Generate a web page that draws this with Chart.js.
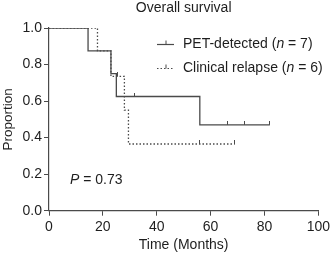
<!DOCTYPE html>
<html>
<head>
<meta charset="utf-8">
<script src="https://cdn.jsdelivr.net/npm/chart.js@4"></script>
<style>
  html, body { margin: 0; padding: 0; background: #fff; }
</style>
</head>
<body>
<canvas id="kmChart" width="333" height="255"></canvas>
<script>
// survival steps
const petTimes = [0, 14.5, 23, 25, 56, 82];
const petSurv = [1, 0.875, 0.75, 0.625, 0.47, 0.47];
const petCensorTimes = [31.6, 66.3, 72.7, 82];
const petCensorSurv = [0.625, 0.47, 0.47, 0.47];

const clinTimes = [0, 18, 23, 28, 29.5, 69];
const clinSurv = [1, 0.875, 0.735, 0.55, 0.365, 0.365];
const clinCensorTimes = [25.5, 56, 69];
const clinCensorSurv = [0.735, 0.365, 0.365];

const xTicks = [0, 20, 40, 60, 80, 100];
const yTicks = [0, 0.2, 0.4, 0.6, 0.8, 1.0];

const FONT = "'Liberation Sans', Arial, sans-serif";
const lineCol = '#4a4a4a';
const textCol = '#1e1e1e';

function pts(xs, ys) {
    return xs.map((x, i) => ({ x: x, y: ys[i] }));
}

// censor mark: short vertical tick sitting on top of the line
function tickImg(col) {
    const c = document.createElement('canvas');
    c.width = 1;
    c.height = 8;
    const g = c.getContext('2d');
    g.fillStyle = col;
    g.fillRect(0, 0, 1, 4);
    return c;
}
const censorMark = tickImg(lineCol);

const overlay = {
    id: 'overlay',
    afterDraw(chart) {
        const ctx = chart.ctx;
        const a = chart.chartArea;
        ctx.save();
        ctx.fillStyle = textCol;
        ctx.textBaseline = 'middle';

        // title
        ctx.font = '14px ' + FONT;
        ctx.textAlign = 'center';
        ctx.fillText('Overall survival', (a.left + a.right) / 2, 8);

        // legend
        ctx.textAlign = 'left';
        const rows = [
            { y: 44.5, dash: [], pre: 'PET-detected (', post: ' = 7)' },
            { y: 68.5, dash: [1.5, 2], pre: 'Clinical relapse (', post: ' = 6)' }
        ];
        rows.forEach(r => {
            ctx.strokeStyle = lineCol;
            ctx.lineWidth = 1.2;
            ctx.setLineDash(r.dash);
            ctx.beginPath();
            ctx.moveTo(157, r.y);
            ctx.lineTo(174, r.y);
            ctx.stroke();
            ctx.setLineDash([]);
            ctx.lineWidth = 1;
            ctx.beginPath();
            ctx.moveTo(166, r.y - 4);
            ctx.lineTo(166, r.y);
            ctx.stroke();

            let x = 183;
            ctx.font = '14px ' + FONT;
            ctx.fillText(r.pre, x, r.y);
            x += ctx.measureText(r.pre).width;
            ctx.font = 'italic 14px ' + FONT;
            ctx.fillText('n', x, r.y);
            x += ctx.measureText('n').width;
            ctx.font = '14px ' + FONT;
            ctx.fillText(r.post, x, r.y);
        });

        // p value
        ctx.font = 'italic 14px ' + FONT;
        ctx.fillText('P', 70, 180.5);
        const pw = ctx.measureText('P').width;
        ctx.font = '14px ' + FONT;
        ctx.fillText(' = 0.73', 70 + pw, 180.5);
        ctx.restore();
    }
};

const ctx = document.getElementById('kmChart').getContext('2d');
const kmChart = new Chart(ctx, {
    type: 'line',
    data: {
        datasets: [{
            label: 'PET-detected',
            data: pts(petTimes, petSurv),
            borderColor: lineCol,
            borderWidth: 1.3,
            stepped: true,
            pointRadius: 0,
            fill: false
        }, {
            label: 'Clinical relapse',
            data: pts(clinTimes, clinSurv),
            borderColor: lineCol,
            borderWidth: 1.3,
            borderDash: [1.5, 2],
            stepped: true,
            pointRadius: 0,
            fill: false
        }, {
            type: 'scatter',
            label: 'PET censored',
            data: pts(petCensorTimes, petCensorSurv),
            pointStyle: censorMark,
            showLine: false
        }, {
            type: 'scatter',
            label: 'Clinical censored',
            data: pts(clinCensorTimes, clinCensorSurv),
            pointStyle: censorMark,
            showLine: false
        }]
    },
    options: {
        responsive: false,
        animation: false,
        layout: {
            padding: { top: 28, right: 12, left: 0, bottom: 0 }
        },
        scales: {
            x: {
                type: 'linear',
                min: 0,
                max: 100,
                afterFit: s => { s.height = 44.3; },
                afterBuildTicks: s => { s.ticks = xTicks.map(v => ({ value: v })); },
                grid: {
                    drawOnChartArea: false,
                    tickLength: 5,
                    color: lineCol
                },
                border: { color: lineCol, width: 1.2 },
                ticks: {
                    color: textCol,
                    padding: 3,
                    maxRotation: 0,
                    font: { family: FONT, size: 14 }
                },
                title: {
                    display: true,
                    text: 'Time (Months)',
                    color: textCol,
                    padding: { top: 0, bottom: 1 },
                    font: { family: FONT, size: 14 }
                }
            },
            y: {
                min: 0,
                max: 1,
                afterFit: s => { s.width = 49; },
                afterBuildTicks: s => { s.ticks = yTicks.map(v => ({ value: v })); },
                grid: {
                    drawOnChartArea: false,
                    tickLength: 5,
                    color: lineCol
                },
                border: { color: lineCol, width: 1.2 },
                ticks: {
                    color: textCol,
                    padding: 2,
                    callback: v => v.toFixed(1),
                    font: { family: FONT, size: 14 }
                },
                title: {
                    display: true,
                    text: 'Proportion',
                    color: textCol,
                    padding: 0,
                    font: { family: FONT, size: 13.5 }
                }
            }
        },
        plugins: {
            legend: { display: false },
            tooltip: { enabled: false }
        }
    },
    plugins: [overlay]
});
</script>
</body>
</html>
